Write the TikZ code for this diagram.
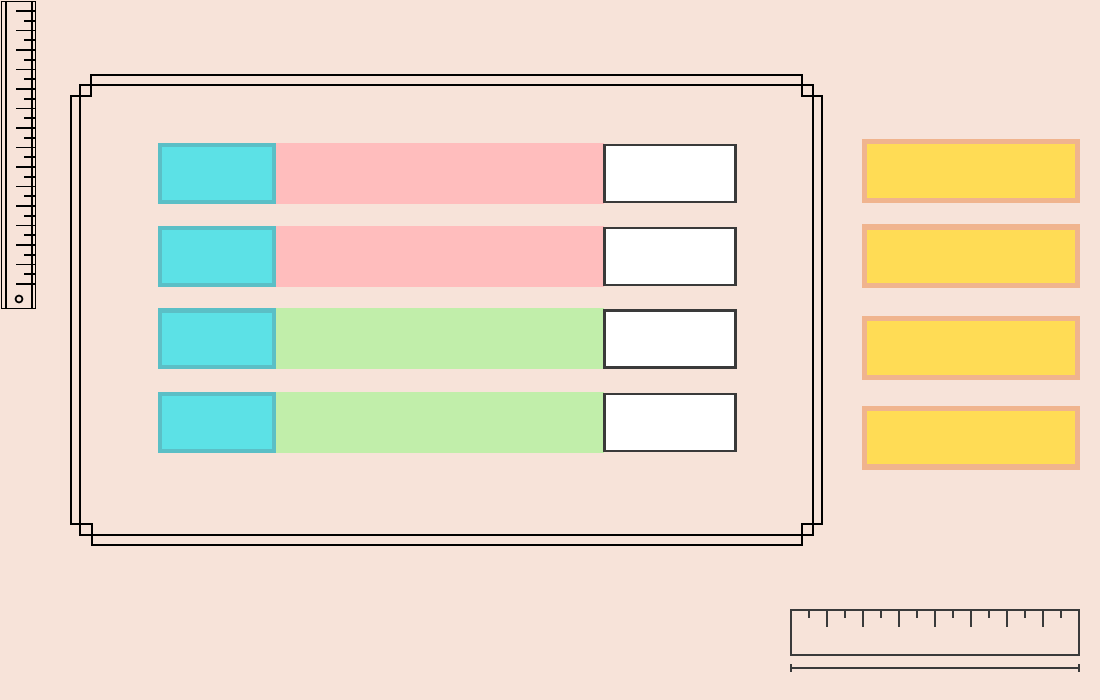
\documentclass[tikz,border=0pt]{standalone}
\usepackage{xcolor}
\usepackage{tikz}
\usetikzlibrary{positioning}
\definecolor{paper}{HTML}{F7E3D9}
\definecolor{tagfill}{HTML}{5CE1E6}
\definecolor{tagline}{HTML}{5BBFC6}
\definecolor{pinkbar}{HTML}{FFBDBD}
\definecolor{greenbar}{HTML}{C1EEAA}
\definecolor{keyfill}{HTML}{FFDC55}
\definecolor{keyline}{HTML}{F0B48E}
\definecolor{inkgray}{HTML}{3A3A3A}

\begin{document}
\begin{tikzpicture}[
  x=1pt, y=-1pt,
  frame/.style={line width=2pt, black},
  tagbox/.style={rectangle, draw=tagline, fill=tagfill, line width=4.3pt,
                 minimum width=113.7pt, minimum height=56.7pt, inner sep=0pt},
  barbox/.style={rectangle, minimum width=328pt, minimum height=61pt,
                 inner sep=0pt},
  valbox/.style={rectangle, draw=inkgray, fill=white, line width=2.6pt,
                 minimum width=131pt, minimum height=57pt, inner sep=0pt},
  keybox/.style={rectangle, draw=keyline, fill=keyfill, line width=5.3pt,
                 minimum width=212.7pt, minimum height=58.7pt, inner sep=0pt},
  rule/.style={line width=1.3pt, inkgray},
  vrule/.style={line width=1.7pt, black},
]

%% Page
\fill[paper] (0,0) rectangle (1100,700);
\useasboundingbox (0,0) rectangle (1100,700);

%% Frame
\draw[frame] (80,85) rectangle (813,535);
\draw[frame] (91,75) -- (802,75) -- (802,96) -- (822,96) -- (822,524)
  -- (802,524) -- (802,545) -- (92,545) -- (92,524) -- (71,524)
  -- (71,96) -- (91,96) -- cycle;

%% Rows inside the frame
\foreach \i/\y/\col in {1/173.5/pinkbar, 2/256.5/pinkbar,
                        3/339/greenbar, 4/422.5/greenbar} {
  \node[barbox, fill=\col] (bar\i) at (440,\y) {};
  \node[tagbox] (tag\i) at (217,\y) {};
  \node[valbox] (val\i) at (670,\y) {};
}

%% Keys on the right
\foreach \i/\y in {1/171, 2/256.5, 3/348, 4/437.5} {
  \node[keybox] (key\i) at (971,\y) {};
}

%% Vertical ruler
\draw[vrule] (1.5,1.5) rectangle (35.5,308.5);
\draw[vrule] (6,1.5) -- (6,308.5);
\draw[vrule] (32,1.5) -- (32,308.5);
\foreach \k in {0,...,14} {
  \draw[vrule] (16,11+19.5*\k) -- (35,11+19.5*\k);
}
\foreach \k in {0,...,13} {
  \draw[vrule] (24,20.7+19.5*\k) -- (35,20.7+19.5*\k);
}
\draw[vrule] (19,299) circle (3.5);

%% Horizontal ruler
\draw[rule] (791,610) rectangle (1079,655);
\foreach \k in {1,...,7} {
  \draw[rule] (791+36*\k,610) -- (791+36*\k,627);
}
\foreach \k in {0,...,7} {
  \draw[rule] (809+36*\k,610) -- (809+36*\k,618);
}
\draw[rule] (791,668) -- (1079,668);
\draw[rule] (791,664) -- (791,672);
\draw[rule] (1079,664) -- (1079,672);

\end{tikzpicture}
\end{document}
